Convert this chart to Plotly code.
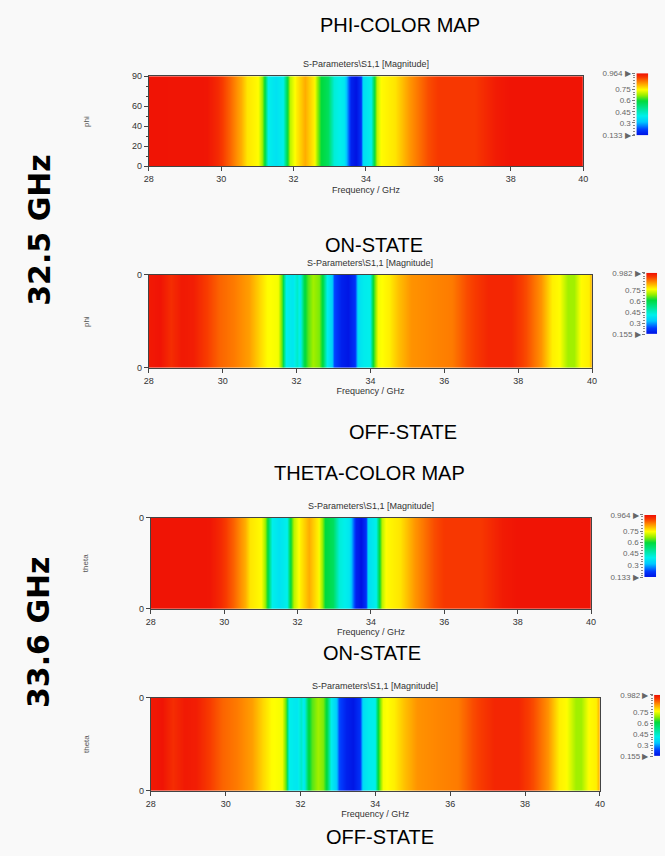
import plotly.graph_objects as go

# ---------------- data ----------------
freq_on = [28.0, 29.6, 29.9, 30.25, 30.55, 30.7, 31.0, 31.12, 31.2, 31.3, 31.5, 31.7, 31.8, 31.9,
           32.05, 32.3, 32.55, 32.65, 32.75, 32.95, 33.12, 33.4, 33.5, 33.58, 33.72, 33.85, 33.92,
           34.12, 34.22, 34.3, 34.4, 34.8, 35.2, 35.7, 36.0, 37.0, 37.6, 38.0, 40.0]
s11_on = [0.964, 0.962, 0.935, 0.88, 0.82, 0.77, 0.75, 0.68, 0.58, 0.40, 0.37, 0.40, 0.58, 0.70,
          0.76, 0.82, 0.76, 0.68, 0.60, 0.56, 0.42, 0.38, 0.26, 0.17, 0.14, 0.20, 0.36,
          0.40, 0.58, 0.70, 0.75, 0.77, 0.84, 0.90, 0.92, 0.92, 0.955, 0.964, 0.964]

freq_off = [28.0, 28.3, 28.6, 28.9, 29.2, 29.5, 29.9, 30.3, 30.7, 31.0, 31.2, 31.5, 31.6, 31.7,
            31.9, 32.0, 32.1, 32.2, 32.3, 32.45, 32.6, 32.7, 32.82, 32.95, 33.02, 33.2, 33.4,
            33.58, 33.66, 33.8, 33.98, 34.07, 34.2, 34.5, 34.75, 35.1, 35.6, 36.2, 36.6, 37.2,
            37.8, 38.2, 38.6, 38.9, 39.1, 39.35, 39.5, 39.7, 39.9, 40.0]
s11_off = [0.975, 0.982, 0.95, 0.975, 0.97, 0.94, 0.90, 0.88, 0.85, 0.80, 0.77, 0.76, 0.66, 0.42,
           0.40, 0.46, 0.40, 0.60, 0.66, 0.70, 0.68, 0.60, 0.42, 0.36, 0.25, 0.19, 0.17,
           0.22, 0.38, 0.41, 0.42, 0.62, 0.76, 0.78, 0.82, 0.86, 0.87, 0.88, 0.92, 0.96,
           0.96, 0.92, 0.86, 0.78, 0.77, 0.70, 0.70, 0.77, 0.78, 0.85]

on_range = [0.133, 0.964]
off_range = [0.155, 0.982]
cb_on_ticks = [0.133, 0.3, 0.45, 0.6, 0.75, 0.964]
cb_off_ticks = [0.155, 0.3, 0.45, 0.6, 0.75, 0.982]
x_ticks = [28, 30, 32, 34, 36, 38, 40]
phi_ticks = [0, 20, 40, 60, 90]
phi_minor = [10, 30, 50, 70, 80]

panel_title = "S-Parameters\\S1,1 [Magnitude]"

# ---------------- style ----------------
W, H = 665, 856
cs = [
    [0.0, 'rgb(0,15,225)'],
    [0.1, 'rgb(0,60,255)'],
    [0.22, 'rgb(0,200,255)'],
    [0.32, 'rgb(0,240,235)'],
    [0.45, 'rgb(0,228,140)'],
    [0.56, 'rgb(0,218,60)'],
    [0.65, 'rgb(150,238,0)'],
    [0.74, 'rgb(255,255,0)'],
    [0.86, 'rgb(255,140,0)'],
    [0.94, 'rgb(248,60,0)'],
    [1.0, 'rgb(240,20,5)'],
]
FONT = "Liberation Sans"


def dx(a, b):
    return [a / W, b / W]


def dy(top, bottom):
    return [1 - bottom / H, 1 - top / H]


def ax_id(k):
    return '' if k == 1 else str(k)


panels = [
    # (freq, vals, range, yname, xdom, ydom, cb xdom, cb ydom, cb ticks)
    (freq_on, s11_on, on_range, 'phi', dx(146, 587), dy(72, 163), dx(641, 653), dy(69, 132), cb_on_ticks),
    (freq_off, s11_off, off_range, 'phi', dx(146, 596), dy(273, 367), dx(651, 662), dy(271, 333), cb_off_ticks),
    (freq_on, s11_on, on_range, 'theta', dx(148, 595), dy(519, 611), dx(649, 661), dy(516, 579), cb_on_ticks),
    (freq_off, s11_off, off_range, 'theta', dx(148, 604), dy(701, 795), dx(659, 665), dy(698, 760), cb_off_ticks),
]

fig = go.Figure()
layout = {}
annotations = []

for i, (fr, vals, rng, yname, xd, yd, cxd, cyd, cticks) in enumerate(panels):
    n = ax_id(2 * i + 1)
    m = ax_id(2 * i + 2)
    xa, ya = f'x{n}', f'y{n}'
    cxa, cya = f'x{m}', f'y{m}'
    if i == 0:
        yvals = [0, 90]
    else:
        yvals = [0, 1]
    fig.add_trace(go.Heatmap(
        x=fr, y=yvals, z=[vals, vals], zmin=rng[0], zmax=rng[1], colorscale=cs,
        zsmooth='best', showscale=False, xaxis=xa, yaxis=ya, hoverinfo='skip'))
    # colour bar drawn as its own small axis
    fig.add_trace(go.Heatmap(
        x=[0, 1], y=rng, z=[[rng[0], rng[0]], [rng[1], rng[1]]], zmin=rng[0], zmax=rng[1],
        colorscale=cs, zsmooth='best', showscale=False, xaxis=cxa, yaxis=cya, hoverinfo='skip'))

    layout[f'xaxis{n}'] = dict(
        domain=xd, anchor=ya, range=[28, 40], tickmode='array', tickvals=x_ticks,
        ticks='outside', ticklen=4, tickcolor='#444', showline=True, linecolor='#444',
        linewidth=1, mirror=True, showgrid=False, zeroline=False,
        tickfont=dict(family=FONT, size=9, color='#333'),
        title=dict(text='Frequency / GHz', standoff=3, font=dict(family=FONT, size=9, color='#333')))
    if i == 0:
        yax = dict(range=[0, 90], tickmode='array', tickvals=phi_ticks,
                   minor=dict(tickmode='array', tickvals=phi_minor, ticks='outside', ticklen=2,
                              tickcolor='#444'))
    else:
        yax = dict(range=[0, 1], tickmode='array', tickvals=[0, 1], ticktext=['0', '0'])
    yax.update(domain=yd, anchor=xa, ticks='outside', ticklen=4, tickcolor='#444', showline=True,
               linecolor='#444', linewidth=1, mirror=True, showgrid=False, zeroline=False,
               tickfont=dict(family=FONT, size=9, color='#333'))
    layout[f'yaxis{n}'] = yax

    layout[f'xaxis{m}'] = dict(domain=cxd, anchor=cya, range=[0, 1], visible=False, fixedrange=True)
    ctext = [f'{t:g}' for t in cticks]
    ctext[0] = ctext[0] + ' \u25b6'
    ctext[-1] = ctext[-1] + ' \u25b6'
    layout[f'yaxis{m}'] = dict(
        domain=cyd, anchor=cxa, range=rng, tickmode='array', tickvals=cticks, ticktext=ctext,
        ticks='outside', ticklen=3, tickcolor='#777', showline=False, showgrid=False,
        zeroline=False, tickfont=dict(family=FONT, size=8, color='#666'),
        minor=dict(tickmode='linear', tick0=0, dtick=0.0375, ticks='outside', ticklen=2,
                   tickcolor='#888'))

    annotations.append(dict(text=panel_title, xref=f'{xa} domain', yref=f'{ya} domain', x=0.5, y=1,
                            yanchor='bottom', yshift=5, showarrow=False,
                            font=dict(family=FONT, size=9, color='#333')))
    annotations.append(dict(text=yname, xref='paper', yref=f'{ya} domain', x=82 / W, y=0.5,
                            xanchor='center', yanchor='middle', textangle=-90, showarrow=False,
                            font=dict(family=FONT, size=8, color='#555')))

headings = [
    ('PHI-COLOR MAP', 401, 20),
    ('ON-STATE', 375, 243),
    ('OFF-STATE', 404, 432),
    ('THETA-COLOR MAP', 370, 474),
    ('ON-STATE', 373, 656),
    ('OFF-STATE', 381, 842),
]
for txt, px, py in headings:
    annotations.append(dict(text=txt, xref='paper', yref='paper', x=px / W, y=1 - py / H,
                            xanchor='center', yanchor='middle', showarrow=False,
                            font=dict(family=FONT, size=20, color='black')))

for txt, px, py in [('32.5 GHz', 35, 227), ('33.6 GHz', 34, 634)]:
    annotations.append(dict(text=f'<b>{txt}</b>', xref='paper', yref='paper', x=px / W, y=1 - py / H,
                            xanchor='center', yanchor='middle', textangle=-90, showarrow=False,
                            font=dict(family='DejaVu Sans', size=30, color='black')))

fig.update_layout(
    width=W, height=H, autosize=False, margin=dict(l=0, r=0, t=0, b=0),
    paper_bgcolor='#f9f9f9', plot_bgcolor='#f9f9f9', showlegend=False,
    annotations=annotations, **layout)

fig.write_html("out.html")
